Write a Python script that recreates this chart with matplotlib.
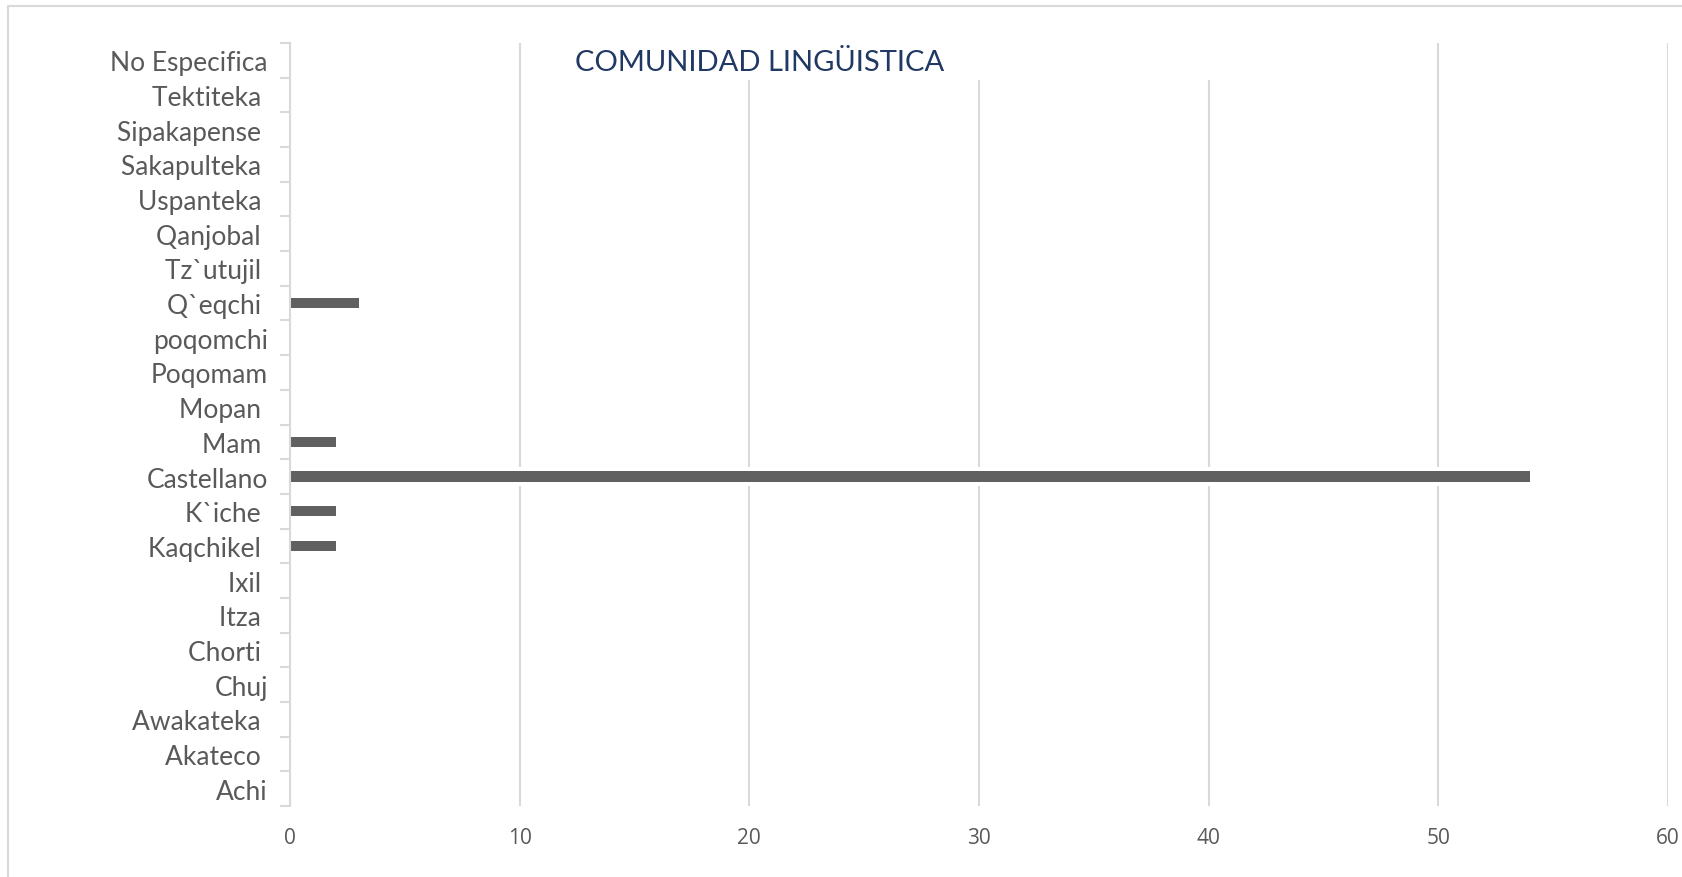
import matplotlib
matplotlib.use('Agg')
import matplotlib.pyplot as plt
import numpy as np
from matplotlib.patches import Rectangle
from matplotlib.lines import Line2D

# categories from bottom to top (as in the chart)
comunidades = ['Achi', 'Akateco ', 'Awakateka ', 'Chuj', 'Chorti ', 'Itza ', 'Ixil ',
               'Kaqchikel ', 'K`iche ', 'Castellano', 'Mam ', 'Mopan ', 'Poqomam',
               'poqomchi', 'Q`eqchi ', 'Tz`utujil ', 'Qanjobal ', 'Uspanteka ',
               'Sakapulteka ', 'Sipakapense ', 'Tektiteka ', 'No Especifica']
cantidad = [0, 0, 0, 0, 0, 0, 0, 2, 2, 54, 2, 0, 0, 0, 3, 0, 0, 0, 0, 0, 0, 0]
xticks = [0, 10, 20, 30, 40, 50, 60]

W, H = 1682, 878
fig = plt.figure(figsize=(W / 100, H / 100), dpi=100)
ax = fig.add_axes([290 / W, 1 - 807 / H, 1378 / W, 763 / H])

ypos = np.arange(len(comunidades))
ax.set_xlim(0, 60)
ax.set_ylim(-0.5, len(comunidades) - 0.5)

# white halo behind the bars cuts the gridlines, like the original
ax.barh(ypos, cantidad, height=0.55, color='white', zorder=1.5)
ax.barh(ypos, cantidad, height=0.29, color='#606060', zorder=2)

ax.set_xticks(xticks)
ax.set_xticklabels([str(v) for v in xticks], fontsize=15, color='#595959',
                   family=['Open Sans', 'DejaVu Sans'])
ax.xaxis.grid(True, color='#D9D9D9', linewidth=1.5, zorder=0)
ax.set_axisbelow(True)
ax.tick_params(axis='x', length=0, pad=15)

ax.set_yticks(ypos)
ax.set_yticklabels(comunidades, fontsize=19, color='#595959',
                   family=['Lato', 'DejaVu Sans'])
ax.set_yticks(np.arange(-0.5, len(comunidades)), minor=True)
ax.tick_params(axis='y', which='major', length=0, pad=16)
ax.tick_params(axis='y', which='minor', length=7, width=1.5, color='#D9D9D9')

for s in ['top', 'right', 'bottom']:
    ax.spines[s].set_visible(False)
ax.spines['left'].set_color('#D9D9D9')
ax.spines['left'].set_linewidth(1.5)

# title box (white background hides part of the gridlines)
fig.patches.append(Rectangle((535 / W, 1 - 81 / H), 700 / W, 40 / H,
                             transform=fig.transFigure, facecolor='white',
                             edgecolor='none', zorder=5))
fig.text(760 / W, 1 - 63 / H, 'COMUNIDAD LINGÜISTICA', ha='center', va='center',
         fontsize=21, color='#203864', family=['Lato', 'DejaVu Sans'], zorder=6)

# chart border
fig.lines.append(Line2D([8 / W, 8 / W, 1.0], [0, 1 - 7 / H, 1 - 7 / H],
                        transform=fig.transFigure, color='#D9D9D9', linewidth=1.5))

fig.savefig('out.png', dpi=100, facecolor='white')
